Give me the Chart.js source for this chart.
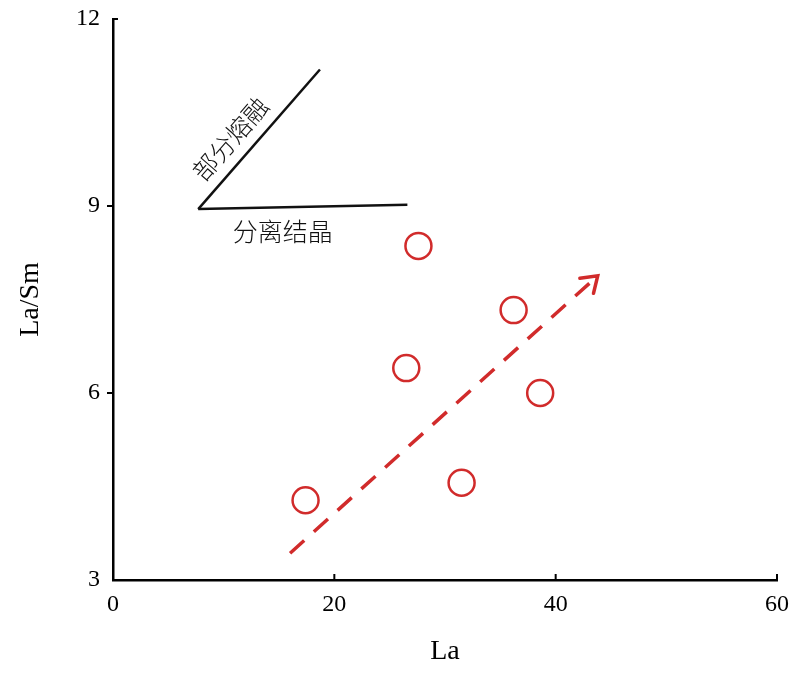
<!DOCTYPE html>
<html>
<head>
<meta charset="utf-8">
<script src="https://cdn.jsdelivr.net/npm/chart.js@4.4.0/dist/chart.umd.min.js"></script>
<style>
  html, body { margin: 0; padding: 0; background: #fff; }
  #wrap { width: 800px; height: 673px; }
</style>
</head>
<body>
<div id="wrap"><canvas id="laChart" width="800" height="673"></canvas></div>
<script>
// sample points
const sampleLa = [17.4, 26.5, 27.6, 36.2, 38.6, 31.5];
const sampleLaSm = [4.28, 6.40, 8.36, 7.33, 6.00, 4.56];

// trend arrow (start -> tip)
const trendLa = [16.0, 43.8];
const trendLaSm = [3.43, 7.88];

// the two reference lines from the common apex
const meltLa = [7.7, 18.7];
const meltLaSm = [8.95, 11.19];
const crystLa = [7.7, 26.6];
const crystLaSm = [8.95, 9.02];

const xTicks = [0, 20, 40, 60];
const yTicks = [3, 6, 9, 12];

const meltLabel = '部分熔融';
const crystLabel = '分离结晶';

const RED = '#d12b2b';
const SERIF = '"Liberation Serif", "Times New Roman", serif';
const CJK = '"Noto Sans CJK SC", sans-serif';

const toPoints = (xs, ys) => xs.map((x, i) => ({ x: x, y: ys[i] }));

const strokeLine = (ctx, x1, y1, x2, y2) => {
    ctx.beginPath();
    ctx.moveTo(x1, y1);
    ctx.lineTo(x2, y2);
    ctx.stroke();
};

// text placed along a line: `along` px from the start, `side` px off it
const labelOnLine = (ctx, p0, p1, text, along, side, rotate) => {
    const dx = p1.x - p0.x, dy = p1.y - p0.y;
    const len = Math.hypot(dx, dy);
    const ux = dx / len, uy = dy / len;
    const cx = p0.x + ux * along + uy * side;
    const cy = p0.y + uy * along - ux * side;
    ctx.save();
    ctx.translate(cx, cy);
    if (rotate) ctx.rotate(Math.atan2(dy, dx));
    ctx.fillText(text, 0, 0);
    ctx.restore();
};

const decorPlugin = {
    id: 'decor',
    afterDatasetsDraw(chart) {
        const { ctx, scales: { x, y } } = chart;
        ctx.save();

        // tick marks: x ticks point up into the plot, y ticks out to the left
        ctx.strokeStyle = '#000';
        ctx.lineWidth = 2;
        xTicks.forEach(v => {
            if (v === xTicks[0]) return;
            const px = x.getPixelForValue(v);
            strokeLine(ctx, px, y.bottom, px, y.bottom - 6);
        });
        yTicks.forEach(v => {
            if (v === yTicks[0]) return;
            const py = y.getPixelForValue(v);
            if (v === yTicks[yTicks.length - 1]) strokeLine(ctx, x.left, py, x.left + 5, py);
            else strokeLine(ctx, x.left, py, x.left - 6, py);
        });

        // open arrowhead at the end of the trend line
        const tr = chart.getDatasetMeta(1).data;
        const a = tr[0], b = tr[tr.length - 1];
        const ang = Math.atan2(b.y - a.y, b.x - a.x) + Math.PI;
        const wing = 18, spread = 0.6;
        ctx.strokeStyle = RED;
        ctx.lineWidth = 3.5;
        ctx.lineCap = 'round';
        ctx.beginPath();
        ctx.moveTo(b.x + wing * Math.cos(ang - spread), b.y + wing * Math.sin(ang - spread));
        ctx.lineTo(b.x, b.y);
        ctx.lineTo(b.x + wing * Math.cos(ang + spread), b.y + wing * Math.sin(ang + spread));
        ctx.stroke();

        // labels of the two reference lines
        ctx.fillStyle = '#111';
        ctx.font = '300 25px ' + CJK;
        ctx.textAlign = 'center';
        ctx.textBaseline = 'middle';
        const melt = chart.getDatasetMeta(2).data;
        labelOnLine(ctx, melt[0], melt[1], meltLabel, 74, 22, true);
        const cryst = chart.getDatasetMeta(3).data;
        labelOnLine(ctx, cryst[0], cryst[1], crystLabel, 84, -24, false);

        ctx.restore();
    }
};

const ctx = document.getElementById('laChart').getContext('2d');

new Chart(ctx, {
    type: 'scatter',
    data: {
        datasets: [
            {
                label: 'samples',
                data: toPoints(sampleLa, sampleLaSm),
                pointStyle: 'circle',
                pointRadius: 13,
                pointBorderWidth: 2.5,
                pointBorderColor: RED,
                pointBackgroundColor: 'rgba(0,0,0,0)'
            },
            {
                label: 'trend',
                data: toPoints(trendLa, trendLaSm),
                showLine: true,
                borderColor: RED,
                borderWidth: 3.5,
                borderDash: [19, 13],
                pointRadius: 0
            },
            {
                label: 'melting',
                data: toPoints(meltLa, meltLaSm),
                showLine: true,
                borderColor: '#111',
                borderWidth: 2.5,
                pointRadius: 0
            },
            {
                label: 'crystallization',
                data: toPoints(crystLa, crystLaSm),
                showLine: true,
                borderColor: '#111',
                borderWidth: 2.5,
                pointRadius: 0
            }
        ]
    },
    options: {
        responsive: false,
        animation: false,
        layout: { padding: { top: 19, right: 23, left: 0, bottom: 0 } },
        plugins: {
            legend: { display: false },
            tooltip: { enabled: false }
        },
        scales: {
            x: {
                type: 'linear',
                min: 0,
                max: 60,
                afterBuildTicks: axis => { axis.ticks = xTicks.map(v => ({ value: v })); },
                afterFit: axis => { axis.height = 93; axis.paddingLeft = 0; axis.paddingRight = 0; },
                grid: { display: false, drawTicks: false },
                border: { display: true, color: '#000', width: 2.5 },
                ticks: { color: '#000', padding: 10, font: { family: SERIF, size: 24 } },
                title: {
                    display: true,
                    text: 'La',
                    color: '#000',
                    padding: { top: 0, bottom: 5 },
                    font: { family: SERIF, size: 28 }
                }
            },
            y: {
                type: 'linear',
                min: 3,
                max: 12,
                afterBuildTicks: axis => { axis.ticks = yTicks.map(v => ({ value: v })); },
                afterFit: axis => { axis.width = 113; axis.paddingTop = 0; axis.paddingBottom = 0; },
                grid: { display: false, drawTicks: false },
                border: { display: true, color: '#000', width: 2.5 },
                ticks: { color: '#000', padding: 13, font: { family: SERIF, size: 24 } },
                title: {
                    display: true,
                    text: 'La/Sm',
                    color: '#000',
                    padding: { top: 14, bottom: 0 },
                    font: { family: SERIF, size: 28 }
                }
            }
        }
    },
    plugins: [decorPlugin]
});
</script>
</body>
</html>
